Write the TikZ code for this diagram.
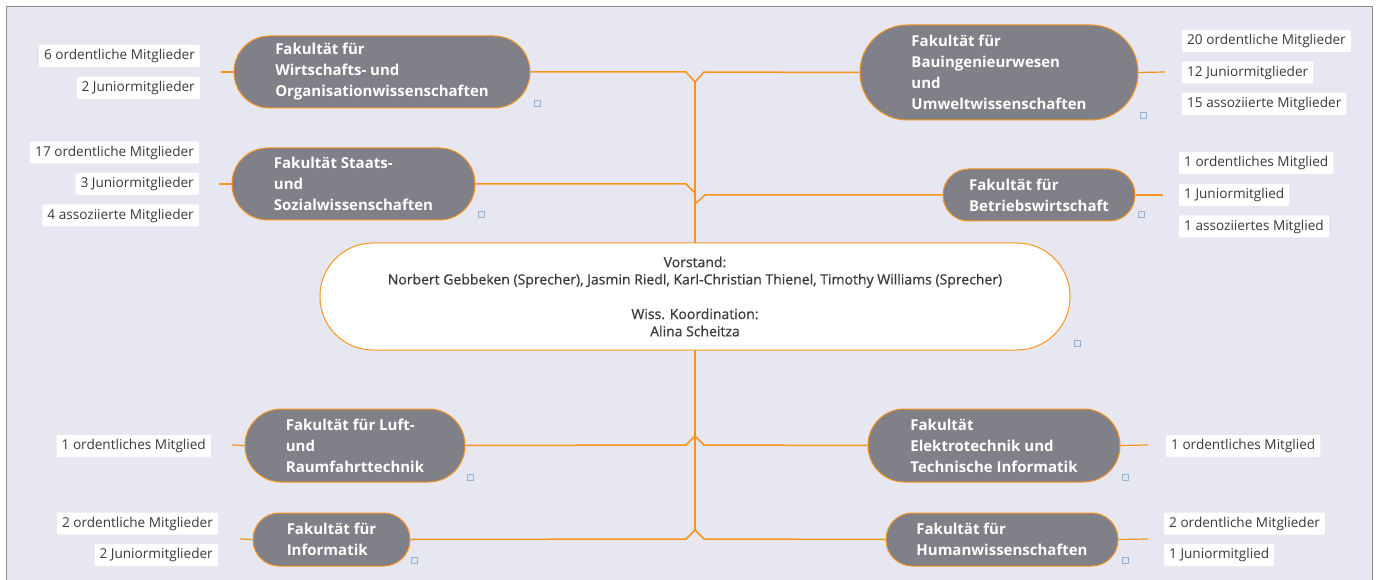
\documentclass[tikz,border=0pt]{standalone}
\usepackage{fontspec}
\setmainfont{Open Sans}
\newfontfamily\semib[FakeBold=0.6]{Open Sans}
\definecolor{bg}{HTML}{E7E7F1}
\definecolor{facg}{HTML}{808088}
\definecolor{org}{HTML}{F7941D}
\definecolor{frm}{HTML}{8C8C8C}
\definecolor{txt}{HTML}{3A3A3A}
\definecolor{iconf}{HTML}{DCE6F4}
\definecolor{icond}{HTML}{9DB2CC}
\begin{document}
\begin{tikzpicture}[x=1pt,y=-1pt,
  facbox/.style 2 args={fill=facg, draw=org, line width=1pt, text=white,
    font=\fontsize{15}{21}\selectfont\bfseries, align=left, inner sep=0pt,
    minimum width=#1pt, minimum height=#2pt, rounded corners=#2pt/2-0.3pt},
  centerbox/.style={fill=white, draw=org, line width=1pt, text=txt,
    font=\fontsize{14}{17.3}\selectfont\semib, align=center, inner sep=0pt,
    minimum width=750pt, minimum height=107pt, rounded corners=53pt},
  leaf/.style={fill=white, text=txt, font=\fontsize{13.6}{15}\selectfont,
    inner xsep=5pt, inner ysep=0pt, minimum height=22pt, rounded corners=1pt},
  branch/.style={draw=org, line width=1.5pt},
  stub/.style={draw=org, line width=1.2pt},
  noteicon/.style={fill=iconf, draw=icond, line width=0.6pt, minimum size=6pt, inner sep=0pt}
]
\useasboundingbox (0,0) rectangle (1379,580);
\clip (0,0) rectangle (1379,580);
\fill[white] (0,0) rectangle (1379,580);
\draw[frm, fill=bg, line width=1pt] (6.5,6.5) rectangle (1372.5,600);

% junction coordinates
\coordinate (jt) at (695,82);
\coordinate (jl1) at (686,72);
\coordinate (jr1) at (704,72);
\coordinate (jl2a) at (686,184);
\coordinate (jl2b) at (695,193);
\coordinate (jr2a) at (695,204);
\coordinate (jr2b) at (705,195);
\coordinate (jb3) at (695,436);
\coordinate (jl3) at (686,445);
\coordinate (jr3) at (704,445);
\coordinate (jb) at (695,530);
\coordinate (jl4) at (686,539);
\coordinate (jr4) at (704,539);

% trunk
\draw[branch] (jt) -- (jb);

% faculties
\node[facbox={296}{72}] (f1) at (382,72) {Fakultät für\\Wirtschafts- und\\Organisationwissenschaften};
\node[facbox={278}{95}] (f2) at (999,72.5) {Fakultät für\\Bauingenieurwesen\\und\\Umweltwissenschaften};
\node[facbox={243}{72}] (f3) at (353.5,184) {Fakultät Staats-\\und\\Sozialwissenschaften};
\node[facbox={192}{52}] (f4) at (1039,195) {Fakultät für\\Betriebswirtschaft};
\node[facbox={220}{73}] (f5) at (355,445.5) {Fakultät für Luft-\\und\\Raumfahrttechnik};
\node[facbox={252}{73}] (f6) at (994,445.5) {Fakultät\\Elektrotechnik und\\Technische Informatik};
\node[facbox={157}{53}] (f7) at (331.5,539.5) {Fakultät für\\Informatik};
\node[facbox={232}{53}] (f8) at (1002,539.5) {Fakultät für\\Humanwissenschaften};

% branches
\draw[branch] (f1.east) -- (jl1) -- (jt) -- (jr1) -- (f2.west);
\draw[branch] (f3.east) -- (jl2a) -- (jl2b);
\draw[branch] (jr2a) -- (jr2b) -- (f4.west);
\draw[branch] (f5.east) -- (jl3) -- (jb3) -- (jr3) -- (f6.west);
\draw[branch] (f7.east) -- (jl4) -- (jb) -- (jr4) -- (f8.west);

% center
\node[centerbox] (c) at (695,296.5) {Vorstand:\\Norbert Gebbeken (Sprecher), Jasmin Riedl, Karl-Christian Thienel, Timothy Williams (Sprecher)\\[17.3pt]Wiss. Koordination:\\Alina Scheitza};

% leaf stubs
\coordinate (s1) at (221,72);
\coordinate (s2) at (1165,72);
\coordinate (s3) at (219,184);
\coordinate (s4) at (1163,195);
\coordinate (s5) at (232,445);
\coordinate (s6) at (1148,445);
\coordinate (s7) at (240,539);
\coordinate (s8) at (1148,539);
\draw[stub] (f1.west) -- (s1);
\draw[stub] (f2.east) -- (s2);
\draw[stub] (f3.west) -- (s3);
\draw[stub] (f4.east) -- (s4);
\draw[stub] (f5.west) -- (s5);
\draw[stub] (f6.east) -- (s6);
\draw[stub] (f7.west) -- (s7);
\draw[stub] (f8.east) -- (s8);

% leaves
\node[leaf, anchor=east] (a1) at (200,56) {6 ordentliche Mitglieder};
\node[leaf, anchor=east] (a2) at (200,88) {2 Juniormitglieder};
\node[leaf, anchor=west] (b1) at (1182,41) {20 ordentliche Mitglieder};
\node[leaf, anchor=west] (b2) at (1182,72.5) {12 Juniormitglieder};
\node[leaf, anchor=west] (b3) at (1182,104) {15 assoziierte Mitglieder};
\node[leaf, anchor=east] (c1) at (199,152.5) {17 ordentliche Mitglieder};
\node[leaf, anchor=east] (c2) at (199,184) {3 Juniormitglieder};
\node[leaf, anchor=east] (c3) at (199,215.5) {4 assoziierte Mitglieder};
\node[leaf, anchor=west] (d1) at (1179,163) {1 ordentliches Mitglied};
\node[leaf, anchor=west] (d2) at (1179,195) {1 Juniormitglied};
\node[leaf, anchor=west] (d3) at (1179,226.5) {1 assoziiertes Mitglied};
\node[leaf, anchor=east] (e1) at (211,446) {1 ordentliches Mitglied};
\node[leaf, anchor=west] (g1) at (1166,446) {1 ordentliches Mitglied};
\node[leaf, anchor=east] (h1) at (218,523.5) {2 ordentliche Mitglieder};
\node[leaf, anchor=east] (h2) at (218,555) {2 Juniormitglieder};
\node[leaf, anchor=west] (k1) at (1164,523.5) {2 ordentliche Mitglieder};
\node[leaf, anchor=west] (k2) at (1164,555) {1 Juniormitglied};

% note icons
\node[noteicon] (i1) at (537,103) {};
\node[noteicon] (i2) at (1143,115) {};
\node[noteicon] (i3) at (481,214) {};
\node[noteicon] (i4) at (1141,214) {};
\node[noteicon] (i5) at (1077,343) {};
\node[noteicon] (i6) at (470,477) {};
\node[noteicon] (i7) at (1125,477) {};
\node[noteicon] (i8) at (414,560) {};
\node[noteicon] (i9) at (1125,560) {};
\end{tikzpicture}
\end{document}
